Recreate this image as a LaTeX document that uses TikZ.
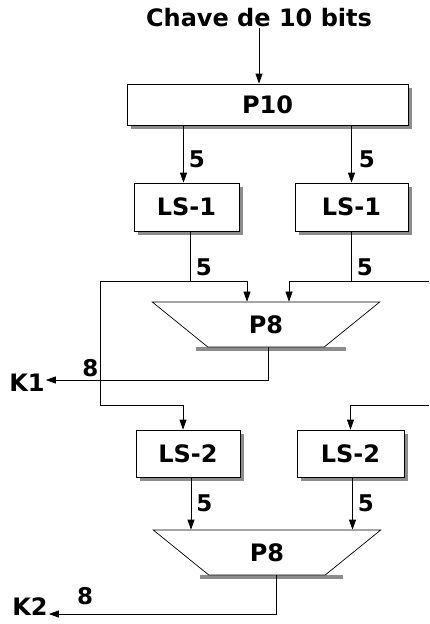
\documentclass[tikz,border=0pt]{standalone}
\usepackage{fontspec}
\setmainfont{DejaVu Sans}
\usetikzlibrary{arrows.meta, shapes.geometric, shadows}
\definecolor{ShadowGray}{RGB}{140,140,140}
\tikzset{
  % Rectangular permutation / shift box
  block/.style={
    rectangle, draw, line width=0.7pt, fill=white,
    font=\bfseries\fontsize{24}{26}\selectfont,
    inner sep=0pt,
    drop shadow={shadow xshift=4pt, shadow yshift=-4pt,
                 fill=ShadowGray, opacity=1}
  },
  % Compressing permutation (P8)
  perm/.style={
    trapezium, trapezium stretches=true, shape border rotate=180,
    trapezium angle=48, draw, line width=0.7pt, fill=white,
    font=\bfseries\fontsize{24}{26}\selectfont,
    inner sep=0pt, minimum width=228pt, minimum height=45pt
  },
  % Bit-width labels beside wires
  bits/.style={
    font=\bfseries\fontsize{23}{25}\selectfont, inner sep=1pt
  },
  % Key names
  keylbl/.style={
    font=\bfseries\fontsize{24}{26}\selectfont, inner sep=1pt
  },
  % Wires
  wire/.style={line width=0.7pt},
  wirearrow/.style={-{Triangle[length=10pt,width=7pt]}, line width=0.7pt}
}
\begin{document}
\begin{tikzpicture}[x=1pt, y=-1pt]
  \useasboundingbox (0,0) rectangle (429,624);

  % ── KEY INPUT + P10 ─────────────────────────────────────────────
  \node[keylbl] (key_in) at (259,18) {Chave de 10 bits};
  \node[block, minimum width=281pt, minimum height=41pt] (p10)
        at (267.5,104.5) {P10};

  % ── FIRST LEFT SHIFTS ──────────────────────────────────────────
  \node[block, minimum width=105pt, minimum height=48pt] (ls1_l)
        at (186.5,207) {LS-1};
  \node[block, minimum width=113pt, minimum height=48pt] (ls1_r)
        at (351.5,207) {LS-1};

  % first P8 (gives K1)
  \fill[ShadowGray] (196,347) rectangle (346,351);
  \node[perm] (p8_a) at (266,324.5) {P8};

  % ── SECOND LEFT SHIFTS ─────────────────────────────────────────
  \node[block, minimum width=104pt, minimum height=47pt] (ls2_l)
        at (188,453.5) {LS-2};
  \node[block, minimum width=107pt, minimum height=47pt] (ls2_r)
        at (350.5,453.5) {LS-2};

  % second P8 (gives K2)
  \fill[ShadowGray] (200,575) rectangle (343,579);
  \node[perm] (p8_b) at (267,552.5) {P8};

  % ── OUTPUT KEYS ────────────────────────────────────────────────
  \node[keylbl] (k1) at (27,383) {K1};
  \node[keylbl] (k2) at (30,607) {K2};

  % wire corners
  \coordinate (split_l) at (100,281);
  \coordinate (split_r) at (429,281);
  \coordinate (turn_l)  at (100,405);
  \coordinate (turn_r)  at (429,405);

  % ── WIRES ──────────────────────────────────────────────────────
  \draw[wirearrow] (key_in.south) -- (key_in.south |- p10.north);

  \draw[wirearrow] ([xshift=-3pt]p10.south -| ls1_l) --
        node[bits, right, pos=0.6, xshift=4pt]{5} ([xshift=-3pt]ls1_l.north);
  \draw[wirearrow] (p10.south -| ls1_r) --
        node[bits, right, pos=0.6, xshift=6pt]{5} (ls1_r.north);

  % LS-1 outputs into P8 and on to LS-2
  \draw[wire] ([xshift=4pt]ls1_l.south) --
        node[bits, right, pos=0.72, xshift=4pt]{5} ([xshift=4pt]ls1_l.south |- split_l);
  \draw[wirearrow] (turn_l) -- (split_l) -| ([xshift=-19pt]p8_a.north);
  \draw[wirearrow] (turn_l) -| ([xshift=-5pt]ls2_l.north);

  \draw[wire] (ls1_r.south) --
        node[bits, right, pos=0.72, xshift=4pt]{5} (ls1_r.south |- split_r);
  \draw[wirearrow] (split_r) -| ([xshift=23pt]p8_a.north);
  \draw[wirearrow] (turn_r) -| (ls2_r.north);

  % K1
  \draw[wirearrow] ([xshift=2pt]p8_a.south) |-
        node[bits, above, pos=0.9, yshift=2pt]{8} ([yshift=3pt]k1.east);

  % LS-2 into second P8
  \draw[wirearrow] ([xshift=3pt]ls2_l.south) --
        node[bits, right, pos=0.5, xshift=4pt]{5} ([xshift=3pt]ls2_l.south |- p8_b.north);
  \draw[wirearrow] ([xshift=2pt]ls2_r.south) --
        node[bits, right, pos=0.5, xshift=4pt]{5} ([xshift=2pt]ls2_r.south |- p8_b.north);

  % K2
  \draw[wirearrow] ([xshift=9pt]p8_b.south) |-
        node[bits, above, pos=0.92, yshift=8pt]{8} ([yshift=-7pt]k2.east);

\end{tikzpicture}
\end{document}
